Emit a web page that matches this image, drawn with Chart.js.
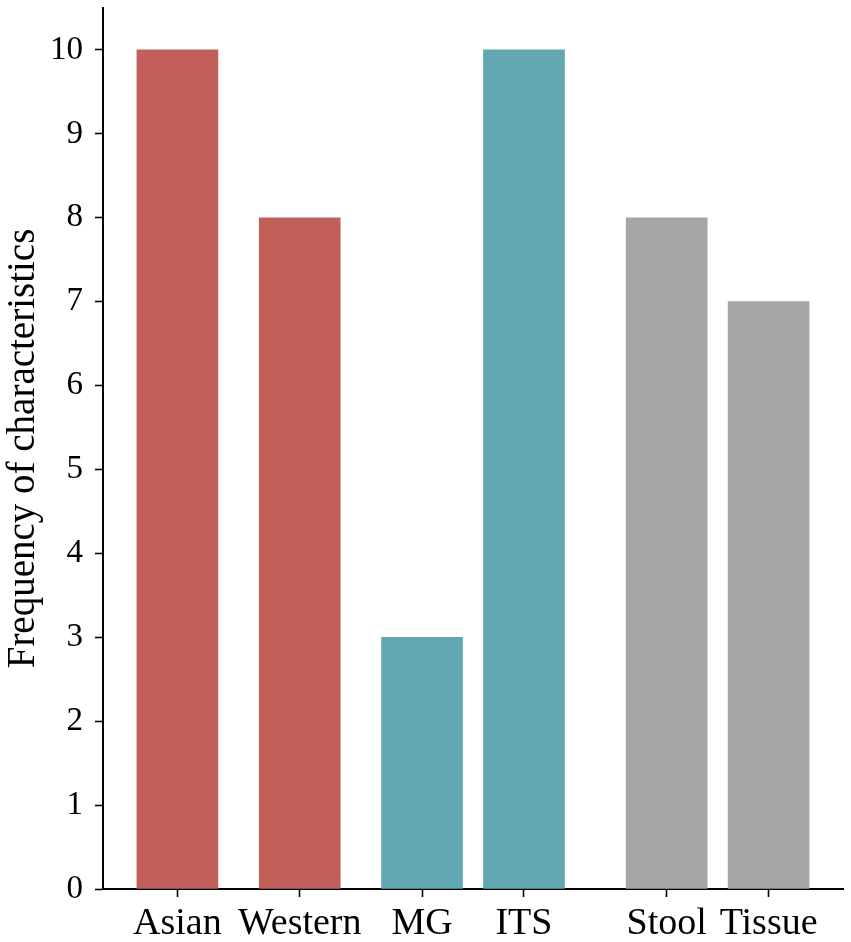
<!DOCTYPE html>
<html lang="en">

<head>
  <meta charset="UTF-8" />
  <script src="https://cdn.jsdelivr.net/npm/chart.js"></script>
  <title>Frequency of characteristics</title>
  <style>
    body { margin: 0; background: #fff; }
    #grafico { display: block; }
  </style>
</head>

<body>
  <canvas id="grafico" width="851" height="942"></canvas>
</body>

</html>

<script>
  // categorias e valores
  const categorias = ["Asian", "Western", "MG", "ITS", "Stool", "Tissue"];
  const posicoes = [0, 1.2, 2.4, 3.4, 4.8, 5.8];
  const frequencias = [10, 8, 3, 10, 8, 7];
  const grupos = ["region", "region", "method", "method", "sample", "sample"];
  const ticksY = [0, 1, 2, 3, 4, 5, 6, 7, 8, 9, 10];

  const coresGrupo = {
    region: "#C1605B",
    method: "#62A7B1",
    sample: "#A6A6A6",
  };

  const fonte = "'Liberation Serif', 'Times New Roman', serif";

  let dados = {
    datasets: [
      {
        label: "Frequency of characteristics",
        data: posicoes.map((x, i) => ({ x: x, y: frequencias[i] })),
        backgroundColor: grupos.map((g) => coresGrupo[g]),
        borderWidth: 0,
        barThickness: 81,
      },
    ],
  };

  const config = {
    type: "bar",
    data: dados,
    options: {
      responsive: false,
      animation: false,
      devicePixelRatio: 1,
      layout: {
        padding: { top: 8, right: 8, left: 0, bottom: 0 },
      },
      scales: {
        x: {
          type: "linear",
          min: -0.73,
          max: 6.53,
          offset: false,
          afterBuildTicks: (scale) => {
            scale.ticks = posicoes.map((v) => ({ value: v }));
          },
          afterFit: (scale) => {
            scale.height = 53;
            scale.paddingLeft = 0;
            scale.paddingRight = 0;
          },
          grid: {
            display: true,
            offset: false,
            drawOnChartArea: false,
            drawTicks: true,
            tickLength: 8,
            tickWidth: 1.6,
            tickColor: "#000",
          },
          border: { display: true, color: "#000", width: 2 },
          ticks: {
            color: "#000",
            padding: 4,
            maxRotation: 0,
            autoSkip: false,
            font: { family: fonte, size: 38 },
            callback: function (valor) {
              let i = posicoes.indexOf(valor);
              return i >= 0 ? categorias[i] : "";
            },
          },
        },
        y: {
          min: 0,
          max: 10.5,
          afterBuildTicks: (scale) => {
            scale.ticks = ticksY.map((v) => ({ value: v }));
          },
          afterFit: (scale) => {
            scale.width = 103;
            scale.paddingTop = 0;
            scale.paddingBottom = 0;
          },
          grid: {
            display: true,
            drawOnChartArea: false,
            drawTicks: true,
            tickLength: 8,
            tickWidth: 1.6,
            tickColor: "#000",
          },
          border: { display: true, color: "#000", width: 2 },
          title: {
            display: true,
            text: "Frequency of characteristics",
            color: "#000",
            padding: 0,
            font: { family: fonte, size: 39 },
          },
          ticks: {
            color: "#000",
            padding: 12,
            font: { family: fonte, size: 33 },
          },
        },
      },
      plugins: {
        legend: { display: false },
        tooltip: { enabled: false },
      },
    },
  };

  let myChart = new Chart(document.getElementById("grafico").getContext("2d"), config);
</script>
